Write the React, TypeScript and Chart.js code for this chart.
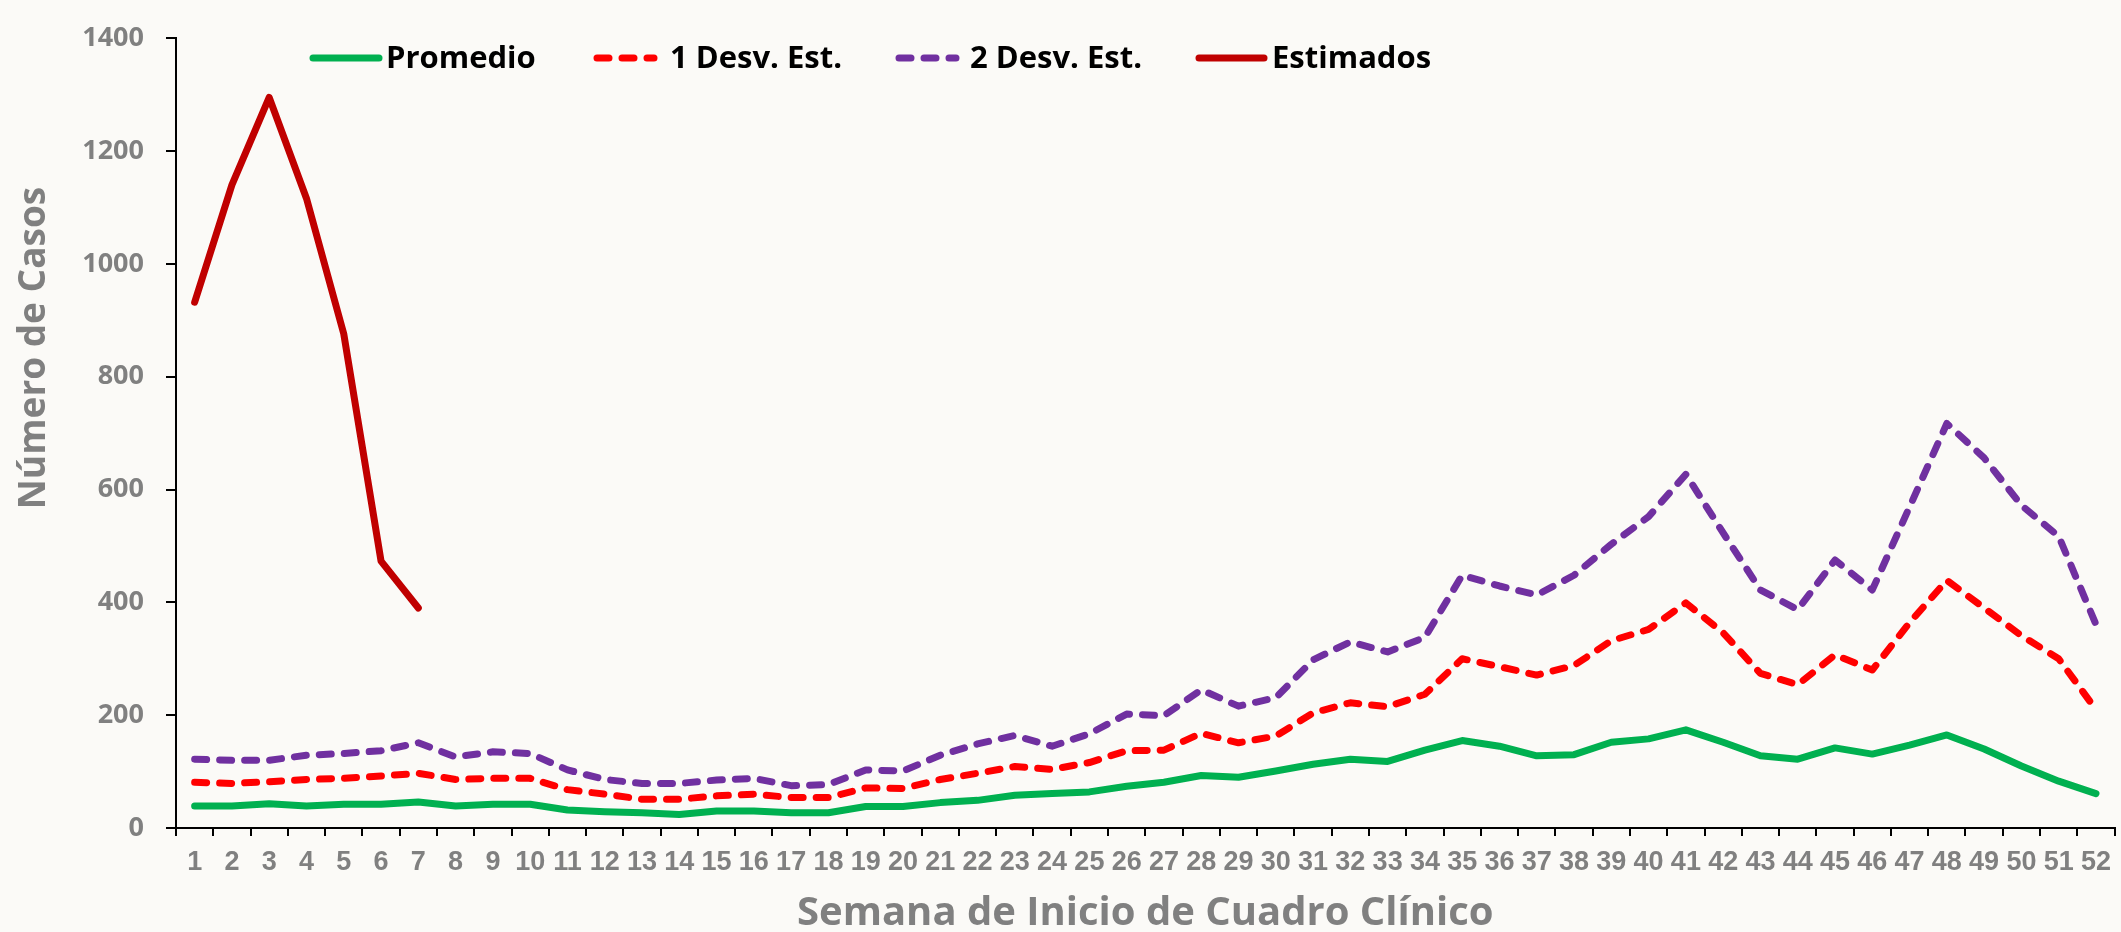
import { useEffect, useRef } from 'react';
import { Chart, registerables } from 'chart.js';

Chart.register(...registerables);

const semanas = ['1','2','3','4','5','6','7','8','9','10','11','12','13','14','15','16','17','18','19','20','21','22','23','24','25','26','27','28','29','30','31','32','33','34','35','36','37','38','39','40','41','42','43','44','45','46','47','48','49','50','51','52'];

const promedio = [39,39,43,39,42,42,46,39,42,42,32,29,27,24,30,30,27,27,38,38,45,49,58,61,64,74,81,93,90,101,113,122,118,138,155,145,128,130,152,158,174,152,128,122,142,131,147,165,140,110,83,61];

const desv1 = [81,79,82,86,88,92,97,86,88,88,68,60,51,51,57,60,54,54,71,70,86,97,109,104,116,137,138,168,151,163,204,222,215,237,300,286,271,288,332,352,399,346,274,254,307,280,364,439,390,341,300,210];

const desv2 = [122,120,120,129,132,137,151,126,135,132,103,86,79,79,85,88,75,77,103,101,129,149,164,145,167,202,199,245,216,231,298,330,312,338,448,429,413,448,503,552,627,523,422,387,475,422,569,717,656,572,517,361];

const estimados = [932,1140,1295,1116,876,473,390];

const yTicks = [0, 200, 400, 600, 800, 1000, 1200, 1400];

const seriesNames = ['Promedio', '1 Desv. Est.', '2 Desv. Est.', 'Estimados'];

const yTitle = 'Número de Casos';
const xTitle = 'Semana de Inicio de Cuadro Clínico';

const GRAY = '#808080';

const bgPlugin = {
  id: 'bgFill',
  beforeDraw(chart: any) {
    const { ctx, width, height } = chart;
    ctx.save();
    ctx.fillStyle = '#fbfaf7';
    ctx.fillRect(0, 0, width, height);
    ctx.restore();
  },
};

const overlayPlugin = {
  id: 'overlayText',
  afterDraw(chart: any) {
    const ctx = chart.ctx;
    ctx.save();
    // y axis title
    ctx.translate(34, 348);
    ctx.rotate(-Math.PI / 2);
    ctx.font = 'bold 37px "Open Sans"';
    ctx.fillStyle = GRAY;
    ctx.textAlign = 'center';
    ctx.textBaseline = 'middle';
    ctx.fillText(yTitle, 0, 0);
    ctx.restore();

    // legend
    const pos = [
      { x0: 313, x1: 379, tx: 386 },
      { x0: 597, x1: 654, tx: 670 },
      { x0: 899, x1: 956, tx: 970 },
      { x0: 1199, x1: 1264, tx: 1272 },
    ];
    const y = 58;
    chart.data.datasets.forEach((ds: any, i: number) => {
      const p = pos[i];
      ctx.save();
      ctx.strokeStyle = ds.borderColor;
      ctx.lineWidth = 7;
      ctx.lineCap = 'round';
      ctx.setLineDash(ds.borderDash || []);
      ctx.beginPath();
      ctx.moveTo(p.x0, y);
      ctx.lineTo(p.x1, y);
      ctx.stroke();
      ctx.setLineDash([]);
      ctx.fillStyle = '#000';
      ctx.font = 'bold 31px "Open Sans"';
      ctx.textAlign = 'left';
      ctx.textBaseline = 'middle';
      ctx.fillText(ds.label, p.tx, y + 1);
      ctx.restore();
    });
  },
};

export default function App() {
  const ref = useRef<HTMLCanvasElement>(null);

  useEffect(() => {
    document.body.style.margin = '0';
    const canvas = ref.current!;
    const dashed = [12, 13];
    const common = {
      borderWidth: 7,
      pointRadius: 0,
      tension: 0,
      borderCapStyle: 'round',
      borderJoinStyle: 'round',
      fill: false,
    };
    const chart = new Chart(canvas, {
      type: 'line',
      data: {
        labels: semanas,
        datasets: [
          { ...common, label: seriesNames[0], data: promedio, borderColor: '#00b050' },
          { ...common, label: seriesNames[1], data: desv1, borderColor: '#ff0000', borderDash: dashed },
          { ...common, label: seriesNames[2], data: desv2, borderColor: '#7030a0', borderDash: dashed },
          { ...common, label: seriesNames[3], data: estimados, borderColor: '#c00000' },
        ],
      },
      options: {
        responsive: false,
        animation: false,
        devicePixelRatio: 1,
        layout: { padding: { top: 22, right: 2, left: 0, bottom: 0 } },
        plugins: {
          legend: { display: false },
          tooltip: { enabled: false },
        },
        scales: {
          x: {
            type: 'category',
            offset: true,
            grid: {
              display: true,
              offset: true,
              drawOnChartArea: false,
              drawTicks: true,
              tickLength: 8,
              color: '#000',
              lineWidth: 2,
            },
            border: { display: true, color: '#000', width: 2 },
            ticks: {
              color: GRAY,
              autoSkip: false,
              maxRotation: 0,
              minRotation: 0,
              padding: 10,
              font: { family: '"Liberation Sans Narrow", "Liberation Sans", Arial', size: 27, weight: 'bold' },
            },
            title: {
              display: true,
              text: xTitle,
              color: GRAY,
              padding: { top: 0, bottom: 8 },
              font: { family: '"Open Sans"', size: 40, weight: 'bold', lineHeight: 0.5 },
            },
            afterFit(scale: any) {
              scale.height = 104;
            },
          },
          y: {
            min: 0,
            max: 1400,
            afterBuildTicks(scale: any) {
              scale.ticks = yTicks.map((v) => ({ value: v }));
            },
            grid: {
              display: true,
              drawOnChartArea: false,
              drawTicks: true,
              tickLength: 10,
              color: '#000',
              lineWidth: 2,
            },
            border: { display: true, color: '#000', width: 2 },
            ticks: {
              color: GRAY,
              padding: 22,
              callback: (v: any) => String(v),
              font: { family: '"Open Sans"', size: 27, weight: 'bold' },
            },
            afterFit(scale: any) {
              scale.width = 176;
            },
          },
        },
      },
      plugins: [bgPlugin, overlayPlugin],
    } as any);
    return () => chart.destroy();
  }, []);

  return (
    <div style={{ width: 2121, height: 932 }}>
      <canvas ref={ref} width={2121} height={932} style={{ display: 'block' }} />
    </div>
  );
}
